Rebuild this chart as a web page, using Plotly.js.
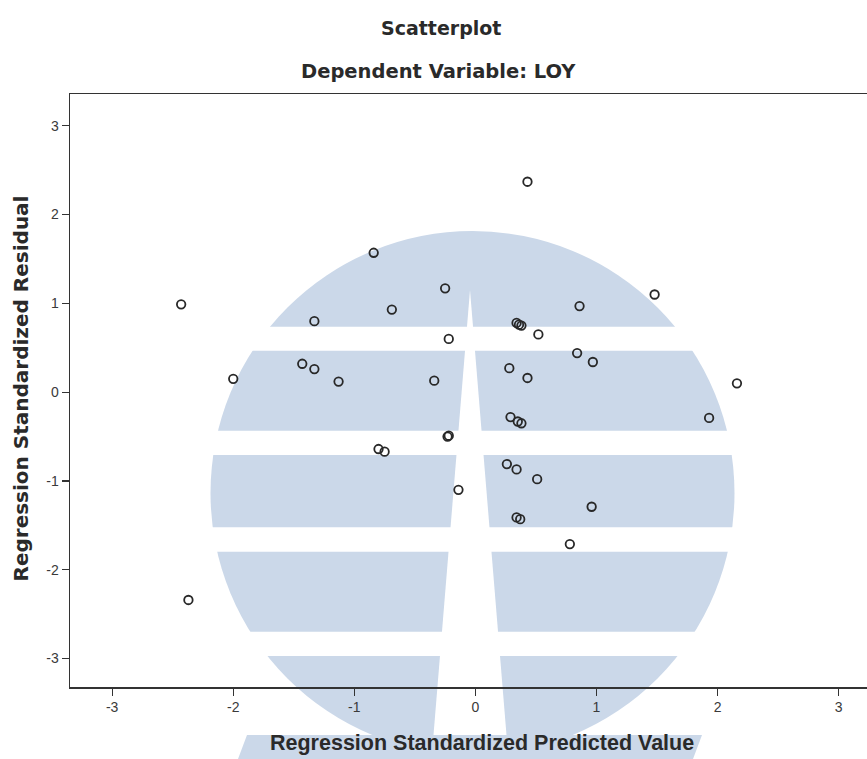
<!DOCTYPE html>
<html><head><meta charset="utf-8">
<script src="https://cdn.plot.ly/plotly-3.0.1.min.js"></script>
<style>html,body{margin:0;padding:0;background:#fff}#chart{width:867px;height:759px}</style>
</head><body><div id="chart"></div>
<script>
const predicted = [-2.43, -2.37, -2.00, -1.43, -1.33, -1.33, -1.13, -0.84, -0.69, -0.80,
  -0.75, -0.34, -0.25, -0.22, -0.22, -0.23, -0.14, 0.43, 0.28, 0.34,
  0.36, 0.38, 0.43, 0.52, 0.29, 0.35, 0.38, 0.26, 0.34, 0.51,
  0.34, 0.37, 0.78, 0.84, 0.86, 0.97, 0.96, 1.48, 1.93, 2.16];
const residual = [0.99, -2.34, 0.15, 0.32, 0.26, 0.80, 0.12, 1.57, 0.93, -0.64,
  -0.67, 0.13, 1.17, 0.60, -0.49, -0.50, -1.10, 2.37, 0.27, 0.78,
  0.76, 0.75, 0.16, 0.65, -0.28, -0.33, -0.35, -0.81, -0.87, -0.98,
  -1.41, -1.43, -1.71, 0.44, 0.97, 0.34, -1.29, 1.10, -0.29, 0.10];
const tickVals = [-3, -2, -1, 0, 1, 2, 3];
const xTickText = ['-3', '-2', '-1', '0', '1', '2', '3'];
const yTickText = ['-3', '-2', '-1', '0', '1', '2', '3'];
const titleText = 'Scatterplot';
const subtitleText = 'Dependent Variable: LOY';
const xTitleText = 'Regression Standardized Predicted Value';
const yTitleText = 'Regression Standardized Residual';

const W = 867, H = 759, M = {l: 70, r: 0, t: 94, b: 72};
const PW = W - M.l - M.r, PH = H - M.t - M.b;
const px = v => (v - M.l) / PW;
const py = v => (H - M.b - v) / PH;

const blue = 'rgb(203,216,233)';
const shapes = [];
// background watermark (decorative)
shapes.push({type: 'circle', xref: 'paper', yref: 'paper', layer: 'below',
  x0: px(210.5), x1: px(734.5), y0: py(755), y1: py(231),
  fillcolor: blue, line: {width: 0}});
[[326.7, 350.7], [430.7, 455], [527.3, 551.7], [631.7, 656]].forEach(b => {
  shapes.push({type: 'rect', xref: 'paper', yref: 'paper', layer: 'below',
    x0: px(190), x1: px(755), y0: py(b[1]), y1: py(b[0]),
    fillcolor: '#ffffff', line: {width: 0}});
});
shapes.push({type: 'path', xref: 'paper', yref: 'paper', layer: 'below',
  path: `M ${px(470)},${py(290)} L ${px(433.5)},${py(735)} L ${px(506.5)},${py(735)} Z`,
  fillcolor: '#ffffff', line: {width: 0}});
shapes.push({type: 'path', xref: 'paper', yref: 'paper', layer: 'below',
  path: `M ${px(247)},${py(735)} L ${px(702)},${py(735)} L ${px(693)},${py(759)} L ${px(238)},${py(759)} Z`,
  fillcolor: blue, line: {width: 0}});

const trace = {
  type: 'scatter', mode: 'markers', x: predicted, y: residual,
  marker: {symbol: 'circle-open', size: 8.5, color: 'rgb(40,40,40)', line: {width: 1.8, color: 'rgb(40,40,40)'}},
  hoverinfo: 'x+y', showlegend: false
};

const axisCommon = {
  showgrid: false, zeroline: false, showline: true, linecolor: '#333', linewidth: 1.5,
  ticks: 'outside', ticklen: 7, tickwidth: 1.2, tickcolor: '#333',
  tickmode: 'array', tickvals: tickVals,
  tickfont: {family: 'Liberation Sans, Arial, sans-serif', size: 14, color: '#3a3a3a'}
};

const layout = {
  width: W, height: H, margin: M,
  paper_bgcolor: '#ffffff', plot_bgcolor: 'rgba(0,0,0,0)',
  xaxis: Object.assign({}, axisCommon, {range: [-3.348, 3.234], mirror: true, ticktext: xTickText}),
  yaxis: Object.assign({}, axisCommon, {range: [-3.320, 3.358], mirror: false, ticktext: yTickText, ticklabelstandoff: 0}),
  shapes: shapes,
  annotations: [
    {text: titleText, xref: 'paper', yref: 'paper', x: px(441), y: py(28), xanchor: 'center', yanchor: 'middle', showarrow: false,
      font: {family: 'DejaVu Sans, sans-serif', size: 19, color: '#2a2a2a', weight: 'bold'}},
    {text: subtitleText, xref: 'paper', yref: 'paper', x: px(438.5), y: py(71), xanchor: 'center', yanchor: 'middle', showarrow: false,
      font: {family: 'DejaVu Sans, sans-serif', size: 19.5, color: '#2a2a2a', weight: 'bold'}},
    {text: xTitleText, xref: 'paper', yref: 'paper', x: px(481.7), y: py(743), xanchor: 'center', yanchor: 'middle', showarrow: false,
      font: {family: 'Liberation Sans, Arial, sans-serif', size: 21.5, color: '#2a2a2a', weight: 'bold'}},
    {text: yTitleText, xref: 'paper', yref: 'paper', x: px(20.5), y: py(389), xanchor: 'center', yanchor: 'middle', showarrow: false, textangle: -90,
      font: {family: 'DejaVu Sans, sans-serif', size: 20, color: '#2a2a2a', weight: 'bold'}}
  ]
};

Plotly.newPlot('chart', [trace], layout, {staticPlot: true, displayModeBar: false});
</script>
</body></html>
